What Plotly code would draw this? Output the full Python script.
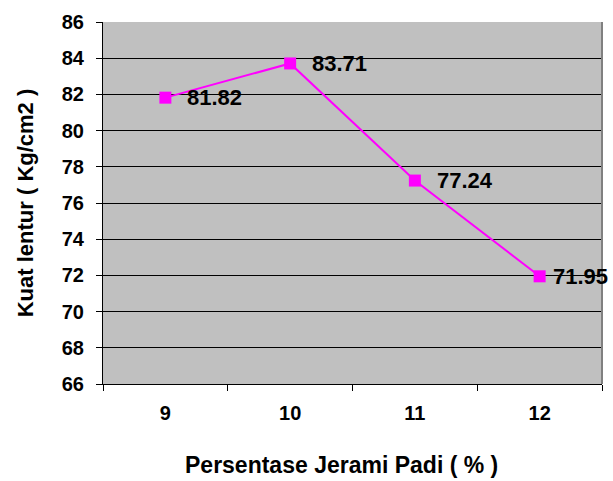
import plotly.graph_objects as go

categories = ["9", "10", "11", "12"]
values = [81.82, 83.71, 77.24, 71.95]
labels = ["81.82", "83.71", "77.24", "71.95"]
y_ticks = list(range(66, 87, 2))
x_title = "Persentase Jerami Padi ( % )"
y_title = "Kuat lentur ( Kg/cm2 )"

FONT = "Liberation Sans, Arial, sans-serif"

fig = go.Figure()
fig.add_trace(go.Scatter(
    x=categories, y=values, mode="lines+markers",
    line=dict(color="#FF00FF", width=2),
    marker=dict(symbol="square", size=12, color="#FF00FF"),
    showlegend=False, hoverinfo="skip",
))

shifts = [20, 20, 20, 11]
for i, (v, t, s) in enumerate(zip(values, labels, shifts)):
    fig.add_annotation(x=i, y=v, xref="x", yref="y", text="<b>%s</b>" % t, showarrow=False,
                       xanchor="left", yanchor="middle", xshift=s, yshift=0,
                       font=dict(family=FONT, size=22, color="black"))

fig.add_annotation(x=0.5, y=0, xref="paper", yref="paper", text="<b>%s</b>" % x_title,
                   showarrow=False, xanchor="center", yanchor="middle", xshift=-11, yshift=-81,
                   font=dict(family=FONT, size=23, color="black"))

fig.update_layout(
    width=613, height=481,
    margin=dict(l=103, r=11, t=18, b=97),
    paper_bgcolor="white", plot_bgcolor="#C0C0C0",
    font=dict(family=FONT, color="black"),
    xaxis=dict(
        type="category", categoryarray=categories, range=[-0.5, 3.5],
        tickson="boundaries", ticks="outside", ticklen=6, tickcolor="black",
        showline=True, linecolor="black", linewidth=1, showgrid=False,
        tickfont=dict(family=FONT, size=20), ticklabelstandoff=11,
        tickvals=categories, ticktext=["<b>%s</b>" % c for c in categories],
    ),
    yaxis=dict(
        range=[66, 86], tickvals=y_ticks, ticktext=["<b>%d</b>" % v for v in y_ticks],
        ticks="outside", ticklen=6, tickcolor="black",
        showline=True, linecolor="black", linewidth=1,
        showgrid=True, gridcolor="black", gridwidth=1, zeroline=False,
        tickfont=dict(family=FONT, size=20), ticklabelstandoff=8,
        title=dict(text="<b>%s</b>" % y_title, font=dict(family=FONT, size=22), standoff=22),
    ),
)
fig.add_shape(type="line", xref="paper", yref="paper", x0=1, x1=1, y0=0, y1=1,
              line=dict(color="#808080", width=2))

# remove the browser's default 8px body margin so the figure sits at the window's corner
fig.write_html("out.html", config={"displayModeBar": False},
               post_script="document.body.style.margin='0';")
